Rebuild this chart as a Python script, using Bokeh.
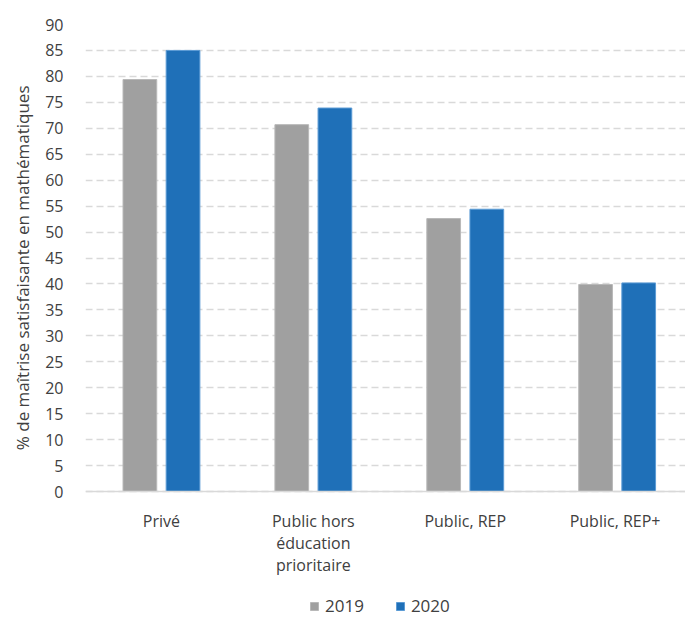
from bokeh.plotting import figure
from bokeh.models import ColumnDataSource, Range1d, FixedTicker, Legend, LegendItem, Title
from bokeh.transform import dodge
from bokeh.embed import file_html
from bokeh.resources import INLINE

categories = ["Privé", "Public hors\néducation\nprioritaire", "Public, REP", "Public,  REP+"]
values_2019 = [79.4, 70.7, 52.6, 39.9]
values_2020 = [85.0, 73.9, 54.4, 40.2]
y_ticks = list(range(0, 95, 5))
y_label = "% de maîtrise satisfaisante en mathématiques"

xs = list(range(len(categories)))
src = ColumnDataSource(dict(x=xs, v2019=values_2019, v2020=values_2020))

FONT = "Open Sans"
TXT = "#404040"

p = figure(width=685, height=617, output_backend="svg", toolbar_location=None,
           x_range=Range1d(-0.5, 3.45), y_range=Range1d(-24.28, 90),
           min_border_left=85, min_border_right=0, min_border_top=24, min_border_bottom=0)
p.outline_line_color = None
p.background_fill_color = "white"
p.border_fill_color = "white"

r1 = p.vbar(x=dodge("x", -0.142, range=p.x_range), top="v2019", width=0.222, source=src,
            fill_color="#A0A0A0", line_color="#B8B8B8", line_width=1)
r2 = p.vbar(x=dodge("x", 0.142, range=p.x_range), top="v2020", width=0.222, source=src,
            fill_color="#1F70B8", line_color="#5B9BD5", line_width=1)

# axes
p.xaxis.fixed_location = 0
p.xaxis.ticker = FixedTicker(ticks=xs)
p.xaxis.major_label_overrides = {i: c for i, c in enumerate(categories)}
p.xaxis.axis_line_color = "#D9D9D9"
p.xaxis.axis_line_width = 1.5
p.xaxis.major_tick_line_color = None
p.xaxis.minor_tick_line_color = None
p.xaxis.major_label_text_font = FONT
p.xaxis.major_label_text_font_size = "16px"
p.xaxis.major_label_text_line_height = 1.0
p.xaxis.major_label_text_color = TXT
p.xaxis.major_label_standoff = 12

p.yaxis.ticker = FixedTicker(ticks=y_ticks)
p.yaxis.axis_line_color = None
p.yaxis.major_tick_line_color = None
p.yaxis.minor_tick_line_color = None
p.yaxis.major_label_text_font = FONT
p.yaxis.major_label_text_font_size = "16px"
p.yaxis.major_label_text_color = TXT
p.yaxis.major_label_standoff = 16

ytitle = Title(text=y_label, align="right", offset=61, vertical_align="middle",
               text_font=FONT, text_font_size="17px", text_font_style="normal",
               text_color=TXT, standoff=15)
p.add_layout(ytitle, "left")

p.xgrid.grid_line_color = None
p.ygrid.grid_line_color = "#D9D9D9"
p.ygrid.grid_line_width = 1.5
p.ygrid.grid_line_dash = "7 4"

legend = Legend(items=[LegendItem(label="2019", renderers=[r1]),
                       LegendItem(label="2020", renderers=[r2])],
                orientation="horizontal", location=(224, 0),
                label_text_font=FONT, label_text_font_size="17px", label_text_color=TXT,
                glyph_width=10, glyph_height=10, label_standoff=6, spacing=31,
                border_line_color=None, background_fill_alpha=0, padding=0, margin=0)
p.add_layout(legend, "center")

open("out.html", "w").write(file_html(p, INLINE))
